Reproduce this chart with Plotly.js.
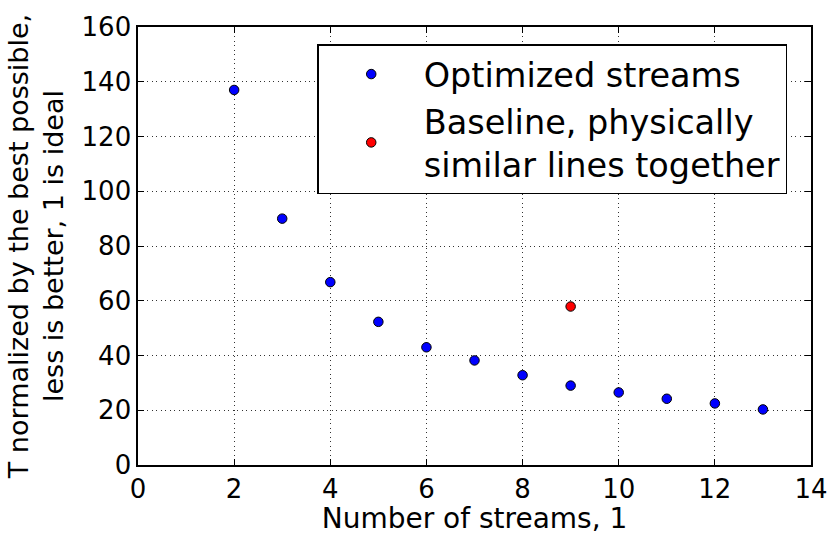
<!DOCTYPE html>
<html>
<head>
<meta charset="utf-8">
<script src="https://cdn.plot.ly/plotly-3.0.1.min.js"></script>
<style>html,body{margin:0;padding:0;background:#fff;}#chart{width:829px;height:535px;}</style>
</head>
<body>
<div id="chart"></div>
<script>
// Data
const optStreams = [2, 3, 4, 5, 6, 7, 8, 9, 10, 11, 12, 13];
const optValues  = [137.0, 90.0, 66.8, 52.3, 43.0, 38.2, 32.8, 29.0, 26.5, 24.2, 22.5, 20.3];
const baseStreams = [9];
const baseValues  = [57.9];
const seriesNames = ["Optimized streams", "Baseline, physically<br>similar lines together"];
const xTicks = [0, 2, 4, 6, 8, 10, 12, 14];
const yTicks = [0, 20, 40, 60, 80, 100, 120, 140, 160];

const font = "DejaVu Sans, sans-serif";
const markerStyle = (c) => ({color: c, size: 9.5, line: {color: "black", width: 1}});

const traces = [
  {x: optStreams, y: optValues, mode: "markers", type: "scatter", name: seriesNames[0], marker: markerStyle("#0000ff")},
  {x: baseStreams, y: baseValues, mode: "markers", type: "scatter", name: seriesNames[1], marker: markerStyle("#ff0000")}
];

const axisCommon = {
  showline: true, linecolor: "black", linewidth: 1.6, mirror: "ticks",
  ticks: "inside", ticklen: 6, tickwidth: 1, tickcolor: "black",
  showgrid: true, gridcolor: "#333", gridwidth: 1, griddash: "1px,3.5px",
  zeroline: false, tickfont: {family: font, size: 26, color: "black"}
};

const layout = {
  width: 829, height: 535,
  margin: {l: 137.5, r: 17.5, t: 26.7, b: 70},
  paper_bgcolor: "white", plot_bgcolor: "white",
  showlegend: true,
  xaxis: Object.assign({}, axisCommon, {
    range: [0, 14], tickvals: xTicks, ticktext: xTicks.map(String),
    title: {text: "Number of streams, 1", font: {family: font, size: 28, color: "black"}, standoff: 15}
  }),
  yaxis: Object.assign({}, axisCommon, {
    range: [0, 160], tickvals: yTicks, ticktext: yTicks.map(String),
    title: {text: "T normalized by the best possible,<br>less is better, 1 is ideal", font: {family: font, size: 27, color: "black"}, standoff: 10}
  }),
  legend: {
    x: 0.2663, y: 0.9605, xanchor: "left", yanchor: "top",
    bgcolor: "white", bordercolor: "black", borderwidth: 1.5,
    font: {family: font, size: 33.5, color: "black"},
    itemwidth: 95, tracegroupgap: 0
  }
};

Plotly.newPlot("chart", traces, layout, {displayModeBar: false, staticPlot: true});
</script>
</body>
</html>
